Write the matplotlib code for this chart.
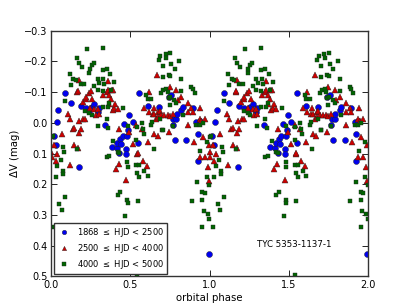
import numpy as np
import matplotlib
matplotlib.use("Agg")
import matplotlib.pyplot as plt

# Light curve of TYC 5353-1137-1, one cycle of phase (drawn twice: phase and phase+1)
# 1868 <= HJD < 2500
blue_phase = [0.015, 0.030, 0.034, 0.046, 0.089, 0.124, 0.179, 0.188, 0.219, 0.240,
              0.257, 0.272, 0.293, 0.299, 0.342, 0.382, 0.413, 0.416, 0.430, 0.437,
              0.441, 0.451, 0.462, 0.473, 0.473, 0.479, 0.487, 0.494, 0.515, 0.551,
              0.553, 0.610, 0.682, 0.743, 0.757, 0.768, 0.772, 0.780, 0.790, 0.793,
              0.821, 0.831, 0.852, 0.894, 0.916, 0.926, 0.926, 0.937, 0.996]
blue_dv = [0.042, 0.071, -0.001, -0.042, -0.098, -0.066, 0.145, -0.056, -0.047, -0.040,
           -0.052, -0.061, -0.036, -0.048, 0.006, 0.079, 0.081, 0.065, 0.097, 0.054,
           0.068, 0.044, 0.004, 0.084, 0.100, 0.043, 0.024, -0.027, -0.001, 0.065,
           -0.097, -0.054, -0.050, -0.085, -0.090, 0.008, -0.014, 0.057, -0.012, -0.030,
           -0.041, -0.052, 0.057, -0.049, -0.001, 0.038, 0.123, -0.005, 0.428]

# 2500 <= HJD < 4000
red_phase = [0.000, 0.004, 0.020, 0.030, 0.038, 0.068, 0.108, 0.118, 0.120, 0.135,
             0.146, 0.146, 0.165, 0.167, 0.171, 0.173, 0.175, 0.177, 0.188, 0.198,
             0.203, 0.215, 0.217, 0.219, 0.236, 0.245, 0.251, 0.261, 0.272, 0.283,
             0.293, 0.299, 0.329, 0.352, 0.357, 0.357, 0.367, 0.367, 0.378, 0.382,
             0.388, 0.392, 0.399, 0.405, 0.409, 0.420, 0.426, 0.430, 0.473, 0.494,
             0.515, 0.536, 0.542, 0.546, 0.572, 0.578, 0.589, 0.605, 0.610, 0.616,
             0.616, 0.641, 0.648, 0.652, 0.652, 0.662, 0.666, 0.673, 0.677, 0.677,
             0.684, 0.694, 0.715, 0.736, 0.743, 0.747, 0.747, 0.768, 0.790, 0.800,
             0.821, 0.863, 0.863, 0.863, 0.884, 0.894, 0.900, 0.937, 0.937, 0.941,
             0.947, 0.958, 0.968, 0.968, 0.989, 0.996, 0.996]
red_dv = [0.096, 0.110, 0.073, 0.123, 0.100, 0.036, -0.029, 0.136, -0.011, 0.020,
          0.071, 0.018, -0.101, -0.105, 0.082, 0.033, -0.139, -0.007, 0.020, -0.067,
          -0.011, -0.013, -0.079, -0.084, -0.097, -0.049, -0.103, -0.078, -0.046, -0.024,
          -0.046, -0.029, -0.089, -0.101, -0.136, -0.106, -0.062, -0.090, -0.078, -0.107,
          -0.041, -0.108, -0.047, -0.060, 0.150, -0.046, 0.134, 0.021, 0.187, 0.030,
          0.068, 0.008, 0.100, 0.097, 0.021, 0.123, -0.047, 0.142, 0.062, -0.101,
          -0.035, -0.029, -0.049, -0.030, 0.038, -0.014, -0.156, 0.042, -0.036, -0.020,
          -0.040, -0.024, -0.027, -0.024, 0.030, -0.118, -0.023, -0.030, -0.107, -0.073,
          -0.085, -0.066, -0.035, 0.006, -0.047, -0.036, 0.062, -0.012, 0.112, -0.047,
          -0.007, 0.046, -0.012, 0.110, 0.143, 0.073, 0.189]

# 4000 <= HJD < 5000
green_phase = [0.004, 0.010, 0.019, 0.030, 0.040, 0.051, 0.061, 0.068, 0.072, 0.072,
               0.076, 0.082, 0.089, 0.089, 0.118, 0.124, 0.140, 0.156, 0.163, 0.165,
               0.173, 0.188, 0.192, 0.209, 0.215, 0.226, 0.241, 0.241, 0.245, 0.255,
               0.255, 0.268, 0.272, 0.293, 0.293, 0.296, 0.304, 0.325, 0.325, 0.325,
               0.325, 0.329, 0.335, 0.352, 0.352, 0.352, 0.357, 0.359, 0.367, 0.367,
               0.374, 0.378, 0.392, 0.399, 0.420, 0.420, 0.430, 0.435, 0.456, 0.468,
               0.479, 0.479, 0.483, 0.483, 0.483, 0.536, 0.536, 0.540, 0.540, 0.542,
               0.546, 0.557, 0.557, 0.572, 0.578, 0.584, 0.589, 0.599, 0.610, 0.610,
               0.631, 0.631, 0.637, 0.648, 0.679, 0.684, 0.690, 0.694, 0.700, 0.705,
               0.705, 0.705, 0.709, 0.722, 0.726, 0.726, 0.736, 0.742, 0.742, 0.747,
               0.751, 0.751, 0.753, 0.757, 0.768, 0.778, 0.781, 0.789, 0.810, 0.821,
               0.821, 0.831, 0.884, 0.888, 0.894, 0.905, 0.916, 0.922, 0.937, 0.941,
               0.953, 0.954, 0.954, 0.958, 0.964, 0.968, 0.983, 0.983, 0.989, 0.998,
               0.998]
green_dv = [0.047, 0.044, 0.338, 0.178, 0.142, 0.263, 0.121, 0.283, 0.156, 0.167,
            0.079, 0.096, -0.071, 0.243, -0.158, -0.122, -0.144, -0.138, -0.212, 0.084,
            -0.195, -0.125, -0.182, -0.125, -0.040, -0.240, -0.162, -0.031, -0.174, -0.187,
            -0.024, -0.196, -0.119, -0.144, -0.108, 0.010, -0.129, -0.245, -0.171, -0.103,
            -0.051, -0.144, -0.127, -0.175, -0.014, 0.110, -0.052, 0.016, -0.063, 0.109,
            -0.158, -0.107, 0.060, -0.134, 0.095, 0.234, 0.099, 0.227, -0.047, 0.305,
            0.129, 0.252, 0.012, 0.143, 0.260, 0.057, 0.136, 0.014, 0.497, 0.165,
            0.254, 0.136, 0.178, 0.002, 0.019, 0.035, 0.156, -0.090, -0.079, 0.172,
            -0.077, 0.006, -0.003, 0.084, -0.206, -0.012, -0.217, -0.096, 0.023, -0.186,
            -0.148, 0.024, -0.107, -0.223, -0.210, -0.111, -0.100, -0.155, -0.082, -0.058,
            -0.227, -0.152, -0.084, -0.190, 0.009, -0.073, -0.175, -0.064, -0.202, -0.142,
            -0.103, -0.027, -0.117, 0.256, -0.109, -0.096, 0.006, 0.194, 0.008, 0.093,
            0.338, 0.227, 0.252, 0.002, 0.287, 0.230, 0.062, 0.178, 0.297, 0.202,
            0.314]

series = [
    (blue_phase, blue_dv, "o", "#0000ee", 4.3, r"1868 $\leq$ HJD < 2500"),
    (red_phase, red_dv, "^", "#cc0000", 4.1, r"2500 $\leq$ HJD < 4000"),
    (green_phase, green_dv, "s", "#006600", 3.5, r"4000 $\leq$ HJD < 5000"),
]

plt.rcParams["mathtext.default"] = "regular"
fig = plt.figure(figsize=(4.09, 3.07), dpi=100)
ax = fig.add_axes([0.125, 0.1, 0.775, 0.8])

for ph, dv, mk, col, ms, lab in series:
    ph = np.array(ph)
    dv = np.array(dv)
    x = np.concatenate([ph, ph + 1.0])
    y = np.concatenate([dv, dv])
    ax.plot(x, y, linestyle="none", marker=mk, color=col, markersize=ms,
            markeredgecolor="#222222", markeredgewidth=0.3, label=lab)

ax.set_xlim(0.0, 2.0)
ax.set_ylim(0.5, -0.3)
ax.set_xticks([0.0, 0.5, 1.0, 1.5, 2.0])
ax.set_yticks(np.arange(-0.3, 0.51, 0.1))
ax.set_yticklabels(["\u22120.3", "\u22120.2", "\u22120.1", "0.0", "0.1", "0.2", "0.3", "0.4", "0.5"])
ax.tick_params(direction="in", top=True, right=True, length=4, width=0.6, labelsize=7, pad=2.5)
for s in ax.spines.values():
    s.set_linewidth(1.0)
    s.set_color("#333333")

ax.set_xlabel("orbital phase", fontsize=7.3, labelpad=2)
ax.set_ylabel("\u0394V (mag)", fontsize=7.3, labelpad=3)

ax.text(1.3, 0.395, "TYC 5353-1137-1", fontsize=6.2, ha="left", va="center")

leg = ax.legend(loc="lower left", numpoints=1, prop={"size": 6.0}, fancybox=False,
                borderaxespad=0.3, handlelength=1.7, handletextpad=0.8,
                labelspacing=0.35, borderpad=0.35, markerscale=0.75, framealpha=1.0)
leg.get_frame().set_edgecolor("#333333")
leg.get_frame().set_linewidth(1.0)

fig.savefig("out.png", dpi=100)
